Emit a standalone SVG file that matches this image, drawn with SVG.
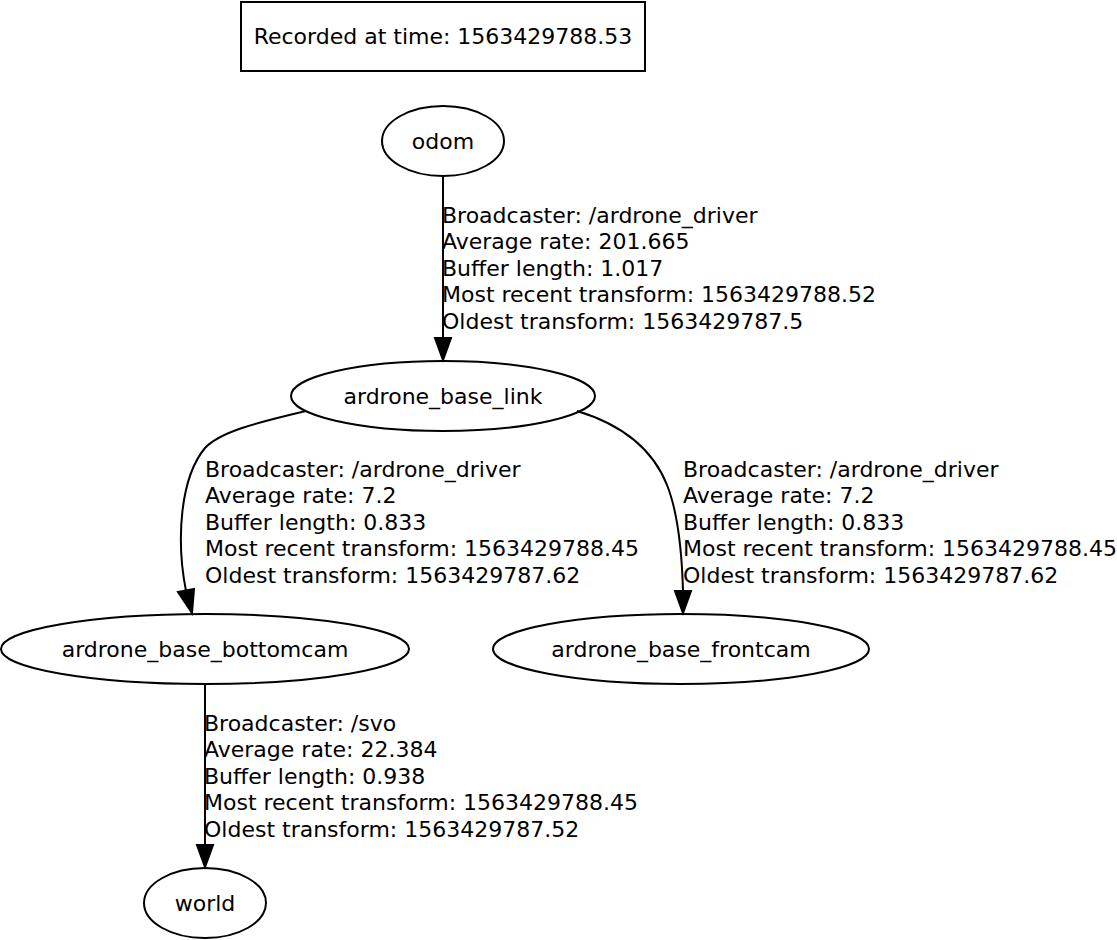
<svg xmlns="http://www.w3.org/2000/svg" width="1117" height="940" viewBox="0 0 1117 940">
<style>
text{font-family:"DejaVu Sans",sans-serif;font-size:22px;fill:#000}
.n ellipse,.n rect{fill:none;stroke:#000;stroke-width:2}
.e path{fill:none;stroke:#000;stroke-width:2}
.e polygon{fill:#000;stroke:#000;stroke-width:2}
.c{text-anchor:middle}
</style>
<rect width="1117" height="940" fill="#fff"/>
<g id="header" class="n"><rect x="241" y="2" width="404" height="69"/><text class="c" x="443" y="44">Recorded at time: 1563429788.53</text></g>
<g id="odom" class="n"><ellipse cx="443" cy="141" rx="61" ry="35"/><text class="c" x="443" y="149">odom</text></g>
<g id="ardrone_base_link" class="n"><ellipse cx="443" cy="396" rx="152" ry="35"/><text class="c" x="443" y="404">ardrone_base_link</text></g>
<g id="ardrone_base_bottomcam" class="n"><ellipse cx="205" cy="649" rx="204" ry="35"/><text class="c" x="205" y="657">ardrone_base_bottomcam</text></g>
<g id="ardrone_base_frontcam" class="n"><ellipse cx="681" cy="649" rx="188" ry="35"/><text class="c" x="681" y="657">ardrone_base_frontcam</text></g>
<g id="world" class="n"><ellipse cx="205" cy="903" rx="61" ry="35"/><text class="c" x="205" y="911">world</text></g>
<g id="edges" class="e">
<path d="M443,176 L443,338"/><polygon points="435,338 451,338 443,360"/>
<path d="M306,411 C255,423 220,432 205,448 C180,478 176,540 186,591"/><polygon points="178,592 194,589 192,613"/>
<path d="M577,411 C620,424 652,447 667,485 C679,515 682,555 683,591"/><polygon points="675,591 691,591 683,613"/>
<path d="M205,684 L205,845"/><polygon points="197,845 213,845 205,867"/>
<text x="442" y="223">Broadcaster: /ardrone_driver</text>
<text x="442" y="249.4">Average rate: 201.665</text>
<text x="442" y="275.8">Buffer length: 1.017</text>
<text x="442" y="302.2">Most recent transform: 1563429788.52</text>
<text x="442" y="328.6">Oldest transform: 1563429787.5</text>
<text x="205" y="477">Broadcaster: /ardrone_driver</text>
<text x="205" y="503.4">Average rate: 7.2</text>
<text x="205" y="529.8">Buffer length: 0.833</text>
<text x="205" y="556.2">Most recent transform: 1563429788.45</text>
<text x="205" y="582.6">Oldest transform: 1563429787.62</text>
<text x="683" y="477">Broadcaster: /ardrone_driver</text>
<text x="683" y="503.4">Average rate: 7.2</text>
<text x="683" y="529.8">Buffer length: 0.833</text>
<text x="683" y="556.2">Most recent transform: 1563429788.45</text>
<text x="683" y="582.6">Oldest transform: 1563429787.62</text>
<text x="204" y="731">Broadcaster: /svo</text>
<text x="204" y="757.4">Average rate: 22.384</text>
<text x="204" y="783.8">Buffer length: 0.938</text>
<text x="204" y="810.2">Most recent transform: 1563429788.45</text>
<text x="204" y="836.6">Oldest transform: 1563429787.52</text>
</g>
</svg>
